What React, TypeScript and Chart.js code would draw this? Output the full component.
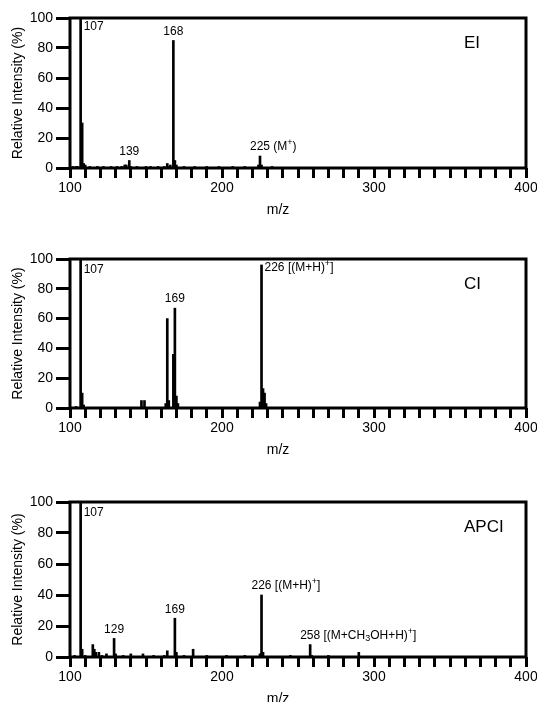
import React, { useEffect, useRef } from "react";
import { Chart, registerables } from "chart.js";

Chart.register(...registerables);

const FONT = '"Liberation Sans", Arial, Helvetica, sans-serif';

// x-axis: m/z range, minor tick step, labelled ticks
const xRange = [100, 400];
const xMinorStep = 10;
const xTickLabels = [100, 200, 300, 400];
// y-axis: relative intensity ticks
const yTickLabels = [0, 20, 40, 60, 80, 100];

// EI spectrum
const eiMz = [102, 104, 105, 107, 108, 109, 110, 113, 118, 122, 127, 131, 134, 136, 137, 139, 140, 144, 150, 153, 158, 162, 164, 165, 166, 168, 169, 170, 175, 182, 190, 198, 207, 215, 224, 225, 226, 233];
const eiIntensity = [1, 1, 1, 100, 30, 3, 2, 1, 1, 1, 1, 1, 1, 2, 2, 5, 1, 1, 1, 1, 1, 1, 3, 1, 2, 85, 5, 2, 1, 1, 1, 1, 1, 1, 2, 8, 2, 1];

// CI spectrum
const ciMz = [104, 107, 108, 109, 147, 149, 163, 164, 165, 168, 169, 170, 171, 225, 226, 227, 228, 229];
const ciIntensity = [1, 100, 10, 2, 5, 5, 3, 60, 5, 36, 67, 8, 3, 4, 96, 13, 10, 3];

// APCI spectrum
const apciMz = [103, 107, 108, 110, 115, 116, 117, 119, 121, 124, 129, 130, 135, 140, 148, 155, 162, 164, 169, 170, 175, 181, 190, 203, 215, 225, 226, 227, 245, 258, 259, 270, 290];
const apciIntensity = [1, 100, 5, 1, 8, 5, 3, 3, 1, 2, 12, 2, 1, 2, 2, 1, 1, 4, 25, 3, 1, 5, 1, 1, 1, 2, 40, 3, 1, 8, 1, 1, 3];

type Seg = { t: string; k?: "sup" | "sub" };
type PeakLabel = { mz: number; mode: "right" | "above"; level?: number; parts: Seg[] };

const eiLabels: PeakLabel[] = [
  { mz: 107, mode: "right", level: 94, parts: [{ t: "107" }] },
  { mz: 139, mode: "above", parts: [{ t: "139" }] },
  { mz: 168, mode: "above", parts: [{ t: "168" }] },
  { mz: 225, mode: "above", parts: [{ t: "225 (M" }, { t: "+", k: "sup" }, { t: ")" }] },
];
const ciLabels: PeakLabel[] = [
  { mz: 107, mode: "right", level: 92.5, parts: [{ t: "107" }] },
  { mz: 169, mode: "above", parts: [{ t: "169" }] },
  { mz: 226, mode: "right", level: 94, parts: [{ t: "226 [(M+H)" }, { t: "+", k: "sup" }, { t: "]" }] },
];
const apciLabels: PeakLabel[] = [
  { mz: 107, mode: "right", level: 93, parts: [{ t: "107" }] },
  { mz: 129, mode: "above", parts: [{ t: "129" }] },
  { mz: 169, mode: "above", parts: [{ t: "169" }] },
  { mz: 226, mode: "above", parts: [{ t: "226 [(M+H)" }, { t: "+", k: "sup" }, { t: "]" }] },
  { mz: 258, mode: "above", parts: [{ t: "258 [(M+CH" }, { t: "3", k: "sub" }, { t: "OH+H)" }, { t: "+", k: "sup" }, { t: "]" }] },
];

type PanelCfg = {
  name: string;
  mz: number[];
  intensity: number[];
  labels: PeakLabel[];
  top: number;
  height: number;
  padTop: number;
  axisH: number;
};

const panels: PanelCfg[] = [
  { name: "EI", mz: eiMz, intensity: eiIntensity, labels: eiLabels, top: 0, height: 240, padTop: 18, axisH: 72 },
  { name: "CI", mz: ciMz, intensity: ciIntensity, labels: ciLabels, top: 240, height: 240, padTop: 19, axisH: 72 },
  { name: "APCI", mz: apciMz, intensity: apciIntensity, labels: apciLabels, top: 480, height: 222, padTop: 22, axisH: 45 },
];

const NORMAL = `12px ${FONT}`;
const SMALL = `9px ${FONT}`;

function partWidth(ctx: CanvasRenderingContext2D, p: Seg) {
  ctx.font = p.k ? SMALL : NORMAL;
  return ctx.measureText(p.t).width;
}

function drawParts(ctx: CanvasRenderingContext2D, parts: Seg[], x: number, y: number) {
  let cx = x;
  for (const p of parts) {
    ctx.font = p.k ? SMALL : NORMAL;
    const dy = p.k === "sup" ? -4 : p.k === "sub" ? 3 : 0;
    ctx.fillText(p.t, cx, y + dy);
    cx += ctx.measureText(p.t).width;
  }
}

const annotatePlugin = {
  id: "annotate",
  afterDraw(chart: any) {
    const cfg: PanelCfg = chart.options.plugins.annotate.cfg;
    const { ctx, chartArea: a, scales } = chart;
    const xs = scales.x;
    const ys = scales.y;
    ctx.save();
    ctx.strokeStyle = "#000";
    ctx.lineWidth = 3;
    ctx.strokeRect(a.left, a.top, a.right - a.left, a.bottom - a.top);

    ctx.fillStyle = "#000";
    ctx.textBaseline = "middle";
    ctx.textAlign = "left";
    ctx.font = `17px ${FONT}`;
    ctx.fillText(cfg.name, a.right - 62, a.top + 25);

    ctx.font = `14px ${FONT}`;
    ctx.textAlign = "center";
    ctx.fillText("m/z", (a.left + a.right) / 2 - 20, a.bottom + 42);

    ctx.textAlign = "left";
    for (const lab of cfg.labels) {
      const px = xs.getPixelForValue(lab.mz);
      if (lab.mode === "right") {
        drawParts(ctx, lab.parts, px + 3, ys.getPixelForValue(lab.level ?? 0));
      } else {
        const idx = cfg.mz.indexOf(lab.mz);
        const topY = ys.getPixelForValue(idx >= 0 ? cfg.intensity[idx] : 0);
        const num = lab.parts[0].t.split(" ")[0];
        const w = partWidth(ctx, { t: num });
        drawParts(ctx, lab.parts, px - w / 2, topY - 9);
      }
    }
    ctx.restore();
  },
};

function Panel({ cfg }: { cfg: PanelCfg }) {
  const ref = useRef<HTMLCanvasElement>(null);
  useEffect(() => {
    const canvas = ref.current!;
    const chart = new Chart(canvas, {
      type: "bar",
      data: {
        datasets: [
          {
            data: cfg.mz.map((m, i) => ({ x: m, y: cfg.intensity[i] })),
            backgroundColor: "#000",
            borderWidth: 0,
            barThickness: 2,
          } as any,
        ],
      },
      options: {
        responsive: false,
        animation: false,
        devicePixelRatio: 1,
        layout: { padding: { left: 0, right: 11, top: cfg.padTop, bottom: 0 } },
        plugins: {
          legend: { display: false },
          tooltip: { enabled: false },
          annotate: { cfg },
        } as any,
        scales: {
          x: {
            type: "linear",
            min: xRange[0],
            max: xRange[1],
            offset: false,
            border: { display: false },
            grid: {
              drawOnChartArea: false,
              drawTicks: true,
              tickLength: 10,
              tickWidth: 3,
              tickColor: "#000",
              offset: false,
            } as any,
            ticks: {
              autoSkip: false,
              maxRotation: 0,
              color: "#000",
              padding: 2,
              font: { family: FONT, size: 14 },
              callback: (v: any) => (xTickLabels.includes(Number(v)) ? String(v) : ""),
            },
            afterBuildTicks: (s: any) => {
              const t: { value: number }[] = [];
              for (let v = xRange[0]; v <= xRange[1]; v += xMinorStep) t.push({ value: v });
              s.ticks = t;
            },
            afterFit: (s: any) => {
              s.height = cfg.axisH;
              s.paddingLeft = 0;
              s.paddingRight = 0;
            },
          } as any,
          y: {
            min: 0,
            max: 100,
            border: { display: false },
            grid: {
              drawOnChartArea: false,
              drawTicks: true,
              tickLength: 14,
              tickWidth: 3,
              tickColor: "#000",
            } as any,
            ticks: {
              color: "#000",
              padding: 3,
              font: { family: FONT, size: 14 },
            },
            afterBuildTicks: (s: any) => {
              s.ticks = yTickLabels.map((v) => ({ value: v }));
            },
            title: {
              display: true,
              text: "Relative Intensity (%)",
              color: "#000",
              font: { family: FONT, size: 14 },
              padding: { top: 10, bottom: 0 },
            },
            afterFit: (s: any) => {
              s.width = 70;
            },
          } as any,
        },
      },
      plugins: [annotatePlugin],
    });
    return () => chart.destroy();
  }, []);
  return (
    <canvas
      ref={ref}
      width={537}
      height={cfg.height}
      style={{ position: "absolute", left: 0, top: cfg.top, width: 537, height: cfg.height, display: "block" }}
    />
  );
}

export default function App() {
  return (
    <div style={{ position: "absolute", left: 0, top: 0, width: 537, height: 702, background: "#fff" }}>
      {panels.map((p) => (
        <Panel key={p.name} cfg={p} />
      ))}
    </div>
  );
}
